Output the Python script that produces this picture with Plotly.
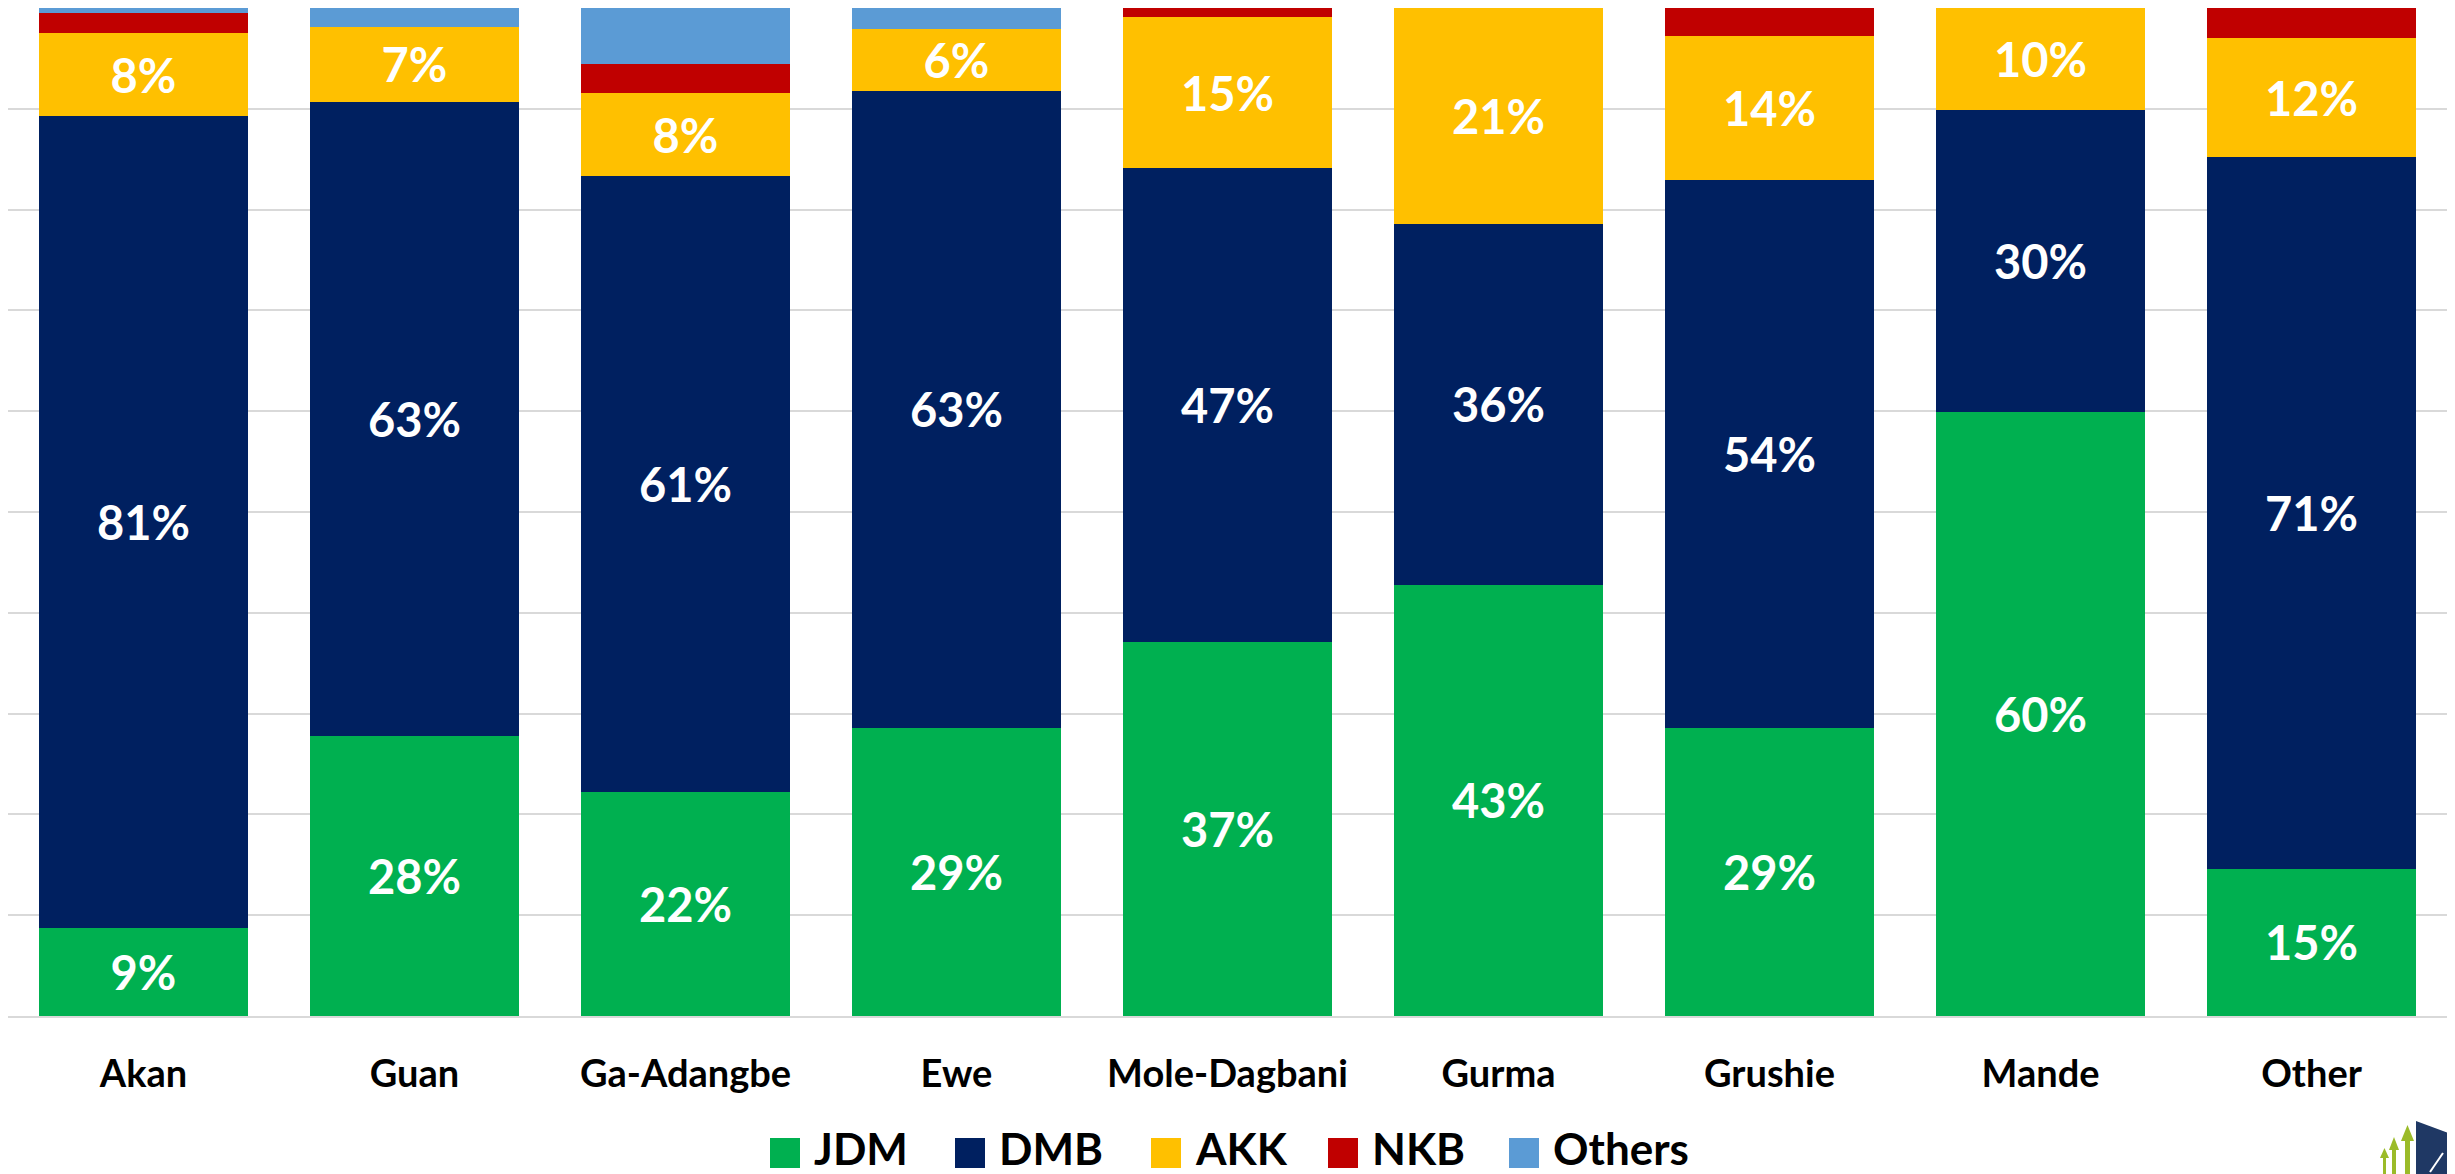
import plotly.graph_objects as go

categories = ["Akan", "Guan", "Ga-Adangbe", "Ewe", "Mole-Dagbani", "Gurma", "Grushie", "Mande", "Other"]
jdm = [8.7, 27.8, 22.2, 28.6, 37.1, 42.8, 28.6, 59.9, 14.6]
dmb = [80.6, 62.9, 61.1, 63.2, 47.0, 35.8, 54.3, 30.0, 70.6]
akk = [8.2, 7.4, 8.3, 6.1, 15.0, 21.4, 14.3, 10.1, 11.8]
nkb = [2.0, 0.0, 2.8, 0.0, 0.9, 0.0, 2.8, 0.0, 3.0]
others = [0.5, 1.9, 5.6, 2.1, 0.0, 0.0, 0.0, 0.0, 0.0]

series_names = ["JDM", "DMB", "AKK", "NKB", "Others"]
series_values = [jdm, dmb, akk, nkb, others]
series_colors = ["#00B050", "#002060", "#FFC000", "#C00000", "#5B9BD5"]
series_labelled = [True, True, True, False, False]

FONT = "Lato"
fig = go.Figure()
for name, vals, color, labelled in zip(series_names, series_values, series_colors, series_labelled):
    fig.add_trace(go.Bar(
        name=name, x=categories, y=vals,
        marker=dict(color=color, line=dict(width=0)),
        texttemplate="<b>%{y:.0f}%</b>" if labelled else None,
        textposition="inside" if labelled else "none",
        insidetextanchor="middle",
        textangle=0,
        constraintext="none",
        textfont=dict(family=FONT, size=47, color="white"),
        hoverinfo="x+y+name",
        showlegend=False,
    ))

# page layout (the page body has an 8px margin)
OFF = 8
W, H = 2439, 1166
L, R, T, B = 0, 0, 0, 158
PW, PH = W - L - R, H - T - B
PLOT_X0 = OFF + L
PLOT_Y1 = OFF + T + PH


def px(x):
    return (x - PLOT_X0) / PW


def py(y):
    return (PLOT_Y1 - y) / PH


shapes = []
annotations = []

# custom legend: square swatch + bold label
legend_left = [770, 955, 1151, 1328, 1509]
SW = 30
LEG_CY = 1153
for name, color, x0 in zip(series_names, series_colors, legend_left):
    shapes.append(dict(type="rect", xref="paper", yref="paper",
                       x0=px(x0), x1=px(x0 + SW), y0=py(LEG_CY + SW / 2), y1=py(LEG_CY - SW / 2),
                       fillcolor=color, line=dict(width=0), layer="above"))
    annotations.append(dict(xref="paper", yref="paper", x=px(x0 + 42), y=py(1148),
                            xanchor="left", yanchor="middle", showarrow=False,
                            text=f"<b>{name}</b>",
                            font=dict(family=FONT, size=44, color="black")))


# small logo (decorative) at bottom right
def poly(pts, color):
    d = "M " + " L ".join(f"{px(a):.5f},{py(b):.5f}" for a, b in pts) + " Z"
    return dict(type="path", xref="paper", yref="paper", path=d,
                fillcolor=color, line=dict(width=0), layer="above")


shapes.append(poly([(2416, 1121), (2448, 1133), (2448, 1174), (2416, 1174)], "#1F3864"))
lime = "#9BBB29"
shapes.append(poly([(2405, 1140), (2410, 1140), (2410, 1174), (2405, 1174)], lime))
shapes.append(poly([(2401, 1141), (2414, 1141), (2407.5, 1125)], lime))
shapes.append(poly([(2392, 1150), (2396, 1150), (2396, 1174), (2392, 1174)], lime))
shapes.append(poly([(2389, 1150), (2399, 1150), (2394, 1137)], lime))
shapes.append(poly([(2383, 1158), (2386, 1158), (2386, 1174), (2383, 1174)], lime))
shapes.append(poly([(2380, 1158), (2389, 1158), (2384.5, 1148)], lime))
shapes.append(dict(type="line", xref="paper", yref="paper",
                   x0=px(2430), y0=py(1172), x1=px(2443), y1=py(1153),
                   line=dict(color="white", width=2), layer="above"))

fig.update_layout(
    barmode="stack",
    bargap=0.23,
    width=W, height=H,
    margin=dict(l=L, r=R, t=T, b=B, autoexpand=False),
    paper_bgcolor="white",
    plot_bgcolor="white",
    font=dict(family=FONT, color="black"),
    showlegend=False,
    xaxis=dict(
        tickfont=dict(family=FONT, size=38, color="black", weight="bold"),
        showgrid=False, showline=True, linecolor="#D9D9D9", linewidth=2,
        ticks="", ticklabelstandoff=23,
    ),
    yaxis=dict(
        range=[0, 100], dtick=10, showticklabels=False,
        showgrid=True, gridcolor="#D9D9D9", gridwidth=2,
        zeroline=False, showline=False,
    ),
    shapes=shapes,
    annotations=annotations,
)

fig.write_html("out.html")
